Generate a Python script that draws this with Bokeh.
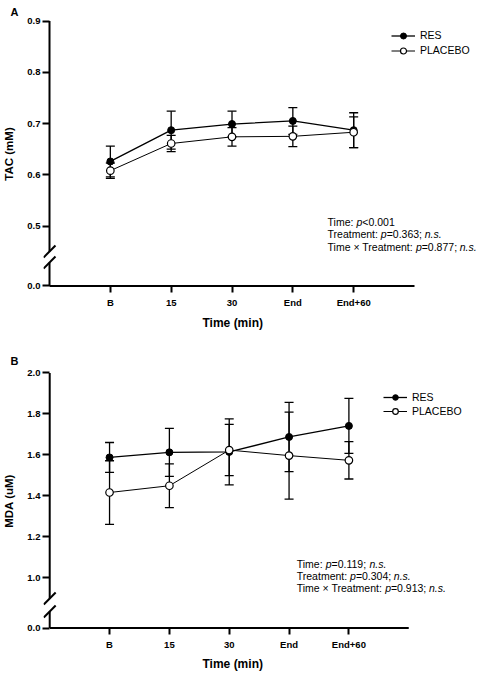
import math
from bokeh.plotting import figure
from bokeh.models import (Range1d, FixedTicker, CustomJSTickFormatter, Whisker, TeeHead,
                          ColumnDataSource, Label, Arrow, Legend, LegendItem, Title)
from bokeh.layouts import column
from bokeh.embed import file_html
from bokeh.resources import INLINE

# ---------------- data ----------------
time_labels = ["B", "15", "30", "End", "End+60"]
time_pos = [0, 1, 2, 3, 4]

tac_res_mean = [0.626, 0.687, 0.699, 0.705, 0.687]
tac_res_sem = [0.030, 0.037, 0.025, 0.026, 0.034]
tac_pla_mean = [0.608, 0.661, 0.674, 0.675, 0.683]
tac_pla_sem = [0.015, 0.016, 0.018, 0.020, 0.030]

mda_res_mean = [1.588, 1.613, 1.615, 1.688, 1.742]
mda_res_sem = [0.073, 0.117, 0.161, 0.169, 0.134]
mda_pla_mean = [1.417, 1.450, 1.624, 1.597, 1.574]
mda_pla_sem = [0.155, 0.107, 0.125, 0.212, 0.091]

tac_yticks = [0.5, 0.6, 0.7, 0.8, 0.9]
mda_yticks = [1.0, 1.2, 1.4, 1.6, 1.8, 2.0]

stat_terms = ["Time", "Treatment", "Time \u00d7 Treatment"]
tac_p = ["<0.001", "=0.363", "=0.877"]
tac_ns = [False, True, True]
mda_p = ["=0.119", "=0.304", "=0.913"]
mda_ns = [True, True, True]

series_names = ["RES", "PLACEBO"]

FONT = "Liberation Sans"

# Arial / Liberation Sans advance widths (per 1000 em)
CHAR_W = {' ': 278, ':': 278, ';': 278, '.': 278, '<': 584, '=': 584, '\u00d7': 584,
          'T': 611, 'i': 222, 'm': 833, 'e': 556, 'r': 333, 'a': 556, 't': 278,
          'n': 556, 'p': 556, 's': 500}


def text_width(s, size):
    return sum(CHAR_W.get(c, 556) for c in s) * size / 1000.0


FIG_W = 480
FRAME_LEFT = 40
FRAME_RIGHT = 480


def make_panel(letter, ylabel, res_m, res_s, pla_m, pla_s, yticks, zero_pos, px_per_y,
               fig_top, fig_h, top_border, x0_px, x4_px,
               gap_center_py, gap_half, letter_standoff,
               legend_glyph_left, legend_top, legend_row, stats_px, stats_py, stats_pitch,
               stats_fs, p_vals, ns_flags, tick_standoff, xtitle_left, xtitle_standoff):
    sx = (x4_px - x0_px) / 4.0
    x_start = (FRAME_LEFT - x0_px) / sx
    x_end = (FRAME_RIGHT - x0_px) / sx
    y_end = yticks[-1] + 0.5 / px_per_y
    y_start = zero_pos - 1.5 / px_per_y
    frame_h = int(round((y_end - y_start) * px_per_y))
    bottom_border = fig_h - top_border - frame_h
    frame_top = fig_top + top_border
    frame_bottom = frame_top + frame_h
    sy = frame_h / (y_end - y_start)

    p = figure(width=FIG_W, height=fig_h, output_backend="svg", toolbar_location=None,
               x_range=Range1d(x_start, x_end), y_range=Range1d(y_start, y_end),
               min_border_left=FRAME_LEFT, min_border_right=FIG_W - FRAME_RIGHT,
               min_border_top=top_border, min_border_bottom=bottom_border)
    p.outline_line_color = None
    p.grid.visible = False
    p.background_fill_color = "white"
    p.border_fill_color = "white"

    def dx(px):
        return x_start + (px - FRAME_LEFT) / sx

    def dy(py):
        return y_end - (py - frame_top) / sy

    # panel letter as title
    p.title.text = letter
    p.title.align = "left"
    p.title.offset = 7 - FRAME_LEFT
    p.title.standoff = letter_standoff
    p.title.text_font = FONT
    p.title.text_font_style = "bold"
    p.title.text_font_size = "11px"
    p.title.text_color = "black"

    # x axis
    xa = p.xaxis[0]
    xa.ticker = FixedTicker(ticks=time_pos)
    xa.major_label_overrides = {i: lab for i, lab in zip(time_pos, time_labels)}
    xa.axis_line_color = None
    xa.major_tick_line_width = 2
    xa.major_tick_line_color = "black"
    xa.major_tick_in = 1
    xa.major_tick_out = 5
    xa.minor_tick_line_color = None
    xa.major_label_text_font = FONT
    xa.major_label_text_font_style = "bold"
    xa.major_label_text_font_size = "9.5px"
    xa.major_label_text_color = "black"
    xa.major_label_standoff = tick_standoff
    p.add_layout(Title(text="Time (min)", align="left", offset=xtitle_left - FRAME_LEFT,
                       standoff=xtitle_standoff, text_font=FONT, text_font_style="bold",
                       text_font_size="12px", text_color="black"), "below")

    # y axis
    ya = p.yaxis[0]
    ya.axis_line_color = None
    ya.ticker = FixedTicker(ticks=[zero_pos] + yticks)
    ya.formatter = CustomJSTickFormatter(args=dict(zero=zero_pos),
                                         code="return Math.abs(tick - zero) < 1e-6 ? '0.0' : tick.toFixed(1);")
    ya.major_tick_line_width = 2
    ya.major_tick_line_color = "black"
    ya.major_tick_in = 6
    ya.major_tick_out = 1
    ya.minor_tick_line_color = None
    ya.major_label_text_font = FONT
    ya.major_label_text_font_style = "bold"
    ya.major_label_text_font_size = "9.5px"
    ya.major_label_text_color = "black"
    ya.major_label_standoff = 2
    ya.axis_label = ylabel
    ya.axis_label_text_font = FONT
    ya.axis_label_text_font_style = "bold"
    ya.axis_label_text_font_size = "11.5px"
    ya.axis_label_text_color = "black"
    ya.axis_label_standoff = 9

    # axis lines: x axis and broken y axis
    p.segment(x0=[-1], x1=[5], y0=[zero_pos], y1=[zero_pos], line_color="black", line_width=2)
    gap_c = dy(gap_center_py)
    gap_lo = gap_c - gap_half / sy
    gap_hi = gap_c + gap_half / sy
    p.segment(x0=[-1, -1], x1=[-1, -1], y0=[zero_pos, gap_hi], y1=[gap_lo, yticks[-1]],
              line_color="black", line_width=2)
    for yc in (gap_lo, gap_hi):
        p.add_layout(Arrow(start=None, end=None, x_start=-1 - 6 / sx, y_start=yc - 6 / sy,
                           x_end=-1 + 6 / sx, y_end=yc + 6 / sy,
                           line_color="black", line_width=2))

    # error bars
    for m, s in ((res_m, res_s), (pla_m, pla_s)):
        src = ColumnDataSource(dict(x=time_pos,
                                    upper=[a + b for a, b in zip(m, s)],
                                    lower=[a - b for a, b in zip(m, s)]))
        p.add_layout(Whisker(source=src, base="x", upper="upper", lower="lower",
                             line_color="black", line_width=1.3,
                             upper_head=TeeHead(size=9, line_color="black", line_width=1.3),
                             lower_head=TeeHead(size=9, line_color="black", line_width=1.3)))

    l_res = p.line(time_pos, res_m, line_color="black", line_width=1.3)
    s_res = p.scatter(time_pos, res_m, marker="circle", size=7, fill_color="black",
                      line_color="black", line_width=1)
    l_pla = p.line(time_pos, pla_m, line_color="black", line_width=1.0)
    s_pla = p.scatter(time_pos, pla_m, marker="circle", size=7.5, fill_color="white",
                      line_color="black", line_width=1.2)

    legend_bottom = legend_top + 2 * legend_row
    legend = Legend(items=[LegendItem(label=series_names[0], renderers=[l_res, s_res]),
                           LegendItem(label=series_names[1], renderers=[l_pla, s_pla])],
                    location=(legend_glyph_left - FRAME_LEFT, frame_bottom - legend_bottom),
                    orientation="vertical", border_line_color=None,
                    background_fill_alpha=0, padding=0, margin=0, spacing=0,
                    glyph_width=24, glyph_height=legend_row, label_height=legend_row,
                    label_standoff=5, label_text_font=FONT, label_text_font_size="10.5px",
                    label_text_color="black", label_text_baseline="middle")
    p.add_layout(legend)

    # statistics text with italic segments
    for i, term in enumerate(stat_terms):
        segs = [(term + ": ", "normal"), ("p", "italic"),
                (p_vals[i] + ("; " if ns_flags[i] else ""), "normal")]
        if ns_flags[i]:
            segs.append(("n.s.", "italic"))
        off = 0.0
        for txt, style in segs:
            p.add_layout(Label(x=dx(stats_px + off), y=dy(stats_py + i * stats_pitch),
                               text=txt.rstrip(), text_font=FONT, text_font_style=style,
                               text_font_size=f"{stats_fs}px", text_color="black",
                               text_baseline="middle", text_align="left"))
            off += text_width(txt, stats_fs)
    return p


pa = make_panel("A", "TAC (mM)", tac_res_mean, tac_res_sem, tac_pla_mean, tac_pla_sem,
                tac_yticks, 0.383, 512.5, fig_top=0, fig_h=340, top_border=20,
                x0_px=107.3, x4_px=352.3, gap_center_py=256.5, gap_half=5.5,
                letter_standoff=6, legend_glyph_left=388, legend_top=27.5, legend_row=15,
                stats_px=326, stats_py=221, stats_pitch=12.5, stats_fs=10.5,
                p_vals=tac_p, ns_flags=tac_ns, tick_standoff=4, xtitle_left=199,
                xtitle_standoff=7)
pb = make_panel("B", "MDA (uM)", mda_res_mean, mda_res_sem, mda_pla_mean, mda_pla_sem,
                mda_yticks, 0.756, 205.0, fig_top=340, fig_h=334, top_border=32,
                x0_px=106.5, x4_px=347.5, gap_center_py=604.5, gap_half=6.5,
                letter_standoff=12, legend_glyph_left=380, legend_top=390, legend_row=14,
                stats_px=295, stats_py=563, stats_pitch=12.3, stats_fs=10.5,
                p_vals=mda_p, ns_flags=mda_ns, tick_standoff=4, xtitle_left=199,
                xtitle_standoff=4)

layout = column(pa, pb, spacing=0)
open("out.html", "w").write(file_html(layout, INLINE))
